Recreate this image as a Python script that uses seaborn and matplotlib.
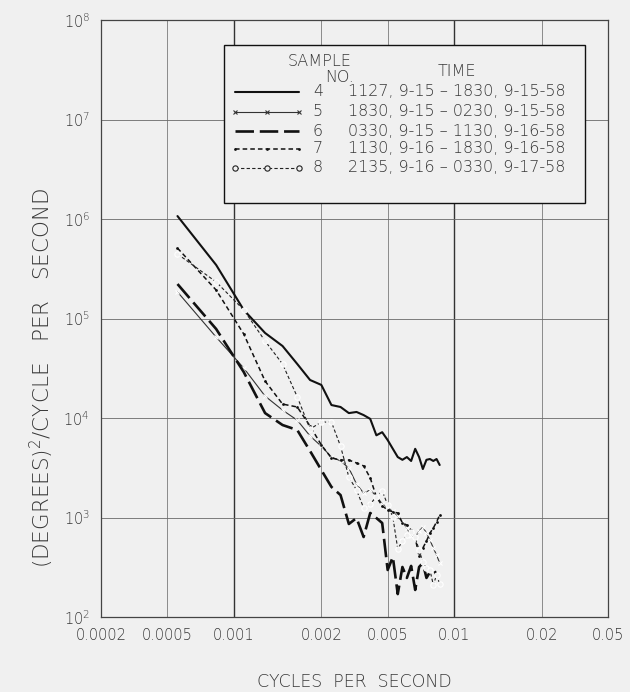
import matplotlib
matplotlib.use("Agg")
import matplotlib.pyplot as plt
import seaborn as sns
import pandas as pd
from matplotlib.lines import Line2D
from matplotlib.patches import Rectangle

# Harmonic frequencies (cycles per second), 2 to 31 cycles per hour
FREQ = [0.000556, 0.000833, 0.001111, 0.001389, 0.001667, 0.001944, 0.002222,
        0.002500, 0.002778, 0.003056, 0.003333, 0.003611, 0.003889, 0.004167,
        0.004444, 0.004722, 0.005000, 0.005278, 0.005556, 0.005833, 0.006111,
        0.006389, 0.006667, 0.006944, 0.007222, 0.007500, 0.007778, 0.008056,
        0.008333, 0.008611]

# Power spectral density, (degrees)^2 / cycle per second
S4 = [1.07e6, 3.45e5, 1.22e5, 7.15e4, 5.29e4, 3.49e4, 2.41e4, 2.15e4, 1.35e4,
      1.29e4, 1.12e4, 1.15e4, 1.07e4, 9.8e3, 6.7e3, 7.2e3, 6.0e3, 4.9e3, 4.05e3,
      3.8e3, 4.05e3, 3.7e3, 4.9e3, 4.05e3, 3.07e3, 3.8e3, 3.87e3, 3.7e3, 3.87e3,
      3.37e3]
S5 = [1.85e5, 6.5e4, 3.18e4, 1.66e4, 1.2e4, 9.5e3, 6.6e3, 5.2e3, 4.06e3, 3.7e3,
      3.14e3, 2.17e3, 1.76e3, 1.89e3, 1.64e3, 1.37e3, 1.25e3, 1.16e3, 1.03e3,
      900, 784, 651, 637, 731, 803, 699, 594, 494, 420, 349]
S6 = [2.22e5, 7.84e4, 2.9e4, 1.12e4, 8.5e3, 7.57e3, 4.66e3, 3.0e3, 2.03e3,
      1.68e3, 861, 988, 637, 1.11e3, 988, 880, 297, 401, 170, 318, 247, 326,
      187, 318, 349, 247, 283, 310, 264]
S7 = [5.1e5, 1.93e5, 6.98e4, 2.35e4, 1.38e4, 1.29e4, 8.3e3, 5.36e3, 3.96e3,
      3.78e3, 3.78e3, 3.53e3, 3.3e3, 2.5e3, 1.61e3, 1.31e3, 1.19e3, 1.14e3,
      1.11e3, 880, 840, 748, 622, 410, 493, 580, 698, 783, 902, 1.06e3]
S8 = [4.45e5, 2.33e5, 1.22e5, 5.94e4, 3.49e4, 1.63e4, 7.75e3, 9.1e3, 9.1e3,
      5.2e3, 2.55e3, 1.89e3, 1.25e3, 1.37e3, 1.61e3, 1.85e3, 1.34e3, 1.01e3,
      482, 580, 667, 715, 637, 471, 357, 311, 297, 210, 264, 215]

SAMPLES = ["4", "5", "6", "7", "8"]
TIMES = ["1127, 9-15 \u2013 1830, 9-15-58",
         "1830, 9-15 \u2013 0230, 9-15-58",
         "0330, 9-15 \u2013 1130, 9-16-58",
         "1130, 9-16 \u2013 1830, 9-16-58",
         "2135, 9-16 \u2013 0330, 9-17-58"]

X_TICKS = [0.00025, 0.0005, 0.001, 0.0025, 0.005, 0.01, 0.025, 0.05]
X_LABELS = ["0.0002", "0.0005", "0.001", "0.002", "0.005", "0.01", "0.02", "0.05"]
Y_EXP = [2, 3, 4, 5, 6, 7, 8]

BG = "#f0f0f0"
INK = "#111111"
TXT = "#383838"

sns.set_theme(style="white")
plt.rcParams["font.family"] = ["DejaVu Sans"]
plt.rcParams["font.weight"] = "light"
plt.rcParams["mathtext.default"] = "regular"

fig = plt.figure(figsize=(6.30, 6.92), dpi=100, facecolor=BG)
ax = fig.add_axes([101 / 630, 1 - 617 / 692, 507 / 630, 597 / 692])
ax.set_facecolor(BG)

# Series styles: solid, x-marked thin, long dash, short dash with dots, dash with circles
styles = {
    "4": dict(color=INK, lw=1.5, ls="-", marker=None),
    "5": dict(color="#333333", lw=0.8, ls="-", marker="x", ms=3, mew=0.8),
    "6": dict(color=INK, lw=1.9, ls=(0, (7, 2.2)), marker=None),
    "7": dict(color=INK, lw=1.1, ls=(0, (3, 2)), marker="o", ms=2, mew=0),
    "8": dict(color="#222222", lw=0.8, ls=(0, (3, 2)), marker="o", ms=3.8,
              mfc=BG, mew=0.8),
}
series = {"4": S4, "5": S5, "6": S6, "7": S7, "8": S8}

for key in SAMPLES:
    vals = series[key]
    df = pd.DataFrame({"freq": FREQ[:len(vals)], "psd": vals})
    st = dict(styles[key])
    ls = st.pop("ls")
    line_ax = sns.lineplot(data=df, x="freq", y="psd", ax=ax, sort=False,
                           estimator=None, zorder=3, **st)
    line_ax.lines[-1].set_linestyle(ls)

ax.set_xscale("log")
ax.set_yscale("log")
ax.set_xlim(2.5e-4, 5e-2)
ax.set_ylim(1e2, 1e8)

ax.set_xticks(X_TICKS)
ax.set_xticklabels(X_LABELS)
ax.set_yticks([10.0 ** e for e in Y_EXP])
ax.set_yticklabels([r"$10^{%d}$" % e for e in Y_EXP])
ax.minorticks_off()
ax.tick_params(axis="both", length=0, labelsize=10.5, colors=TXT)
ax.tick_params(axis="x", pad=8)
ax.tick_params(axis="y", pad=8)

# Grid
for xv in X_TICKS:
    heavy = xv in (0.001, 0.01)
    ax.axvline(xv, color="#333333" if heavy else "#7a7a7a",
               lw=1.0 if heavy else 0.6, zorder=1)
for e in Y_EXP:
    ax.axhline(10.0 ** e, color="#6a6a6a", lw=0.6, zorder=1)
for sp in ax.spines.values():
    sp.set_color("#444444")
    sp.set_linewidth(0.9)

ax.set_xlabel("")
ax.set_ylabel("")
fig.text(354 / 630, 1 - 682 / 692, "CYCLES  PER  SECOND", ha="center",
         va="center", fontsize=12.5, color=TXT)
fig.text(42 / 630, 1 - 378 / 692, r"(DEGREES)$^{2}$/CYCLE   PER   SECOND",
         rotation=90, ha="center", va="center", fontsize=15.5, color=TXT)

# Legend box
bx0, bx1 = (224 - 101) / 507, (585 - 101) / 507
by0, by1 = 1 - (203 - 20) / 597, 1 - (45 - 20) / 597
ax.add_patch(Rectangle((bx0, by0), bx1 - bx0, by1 - by0, transform=ax.transAxes,
                       facecolor=BG, edgecolor=INK, lw=1.0, zorder=5))


def fx(px):
    return (px - 101) / 507


def fy(py):
    return 1 - (py - 20) / 597


ax.text(fx(320), fy(61), "SAMPLE", transform=ax.transAxes, ha="center",
        va="center", fontsize=11.5, color=TXT, zorder=6)
ax.text(fx(340), fy(78), "NO.", transform=ax.transAxes, ha="center",
        va="center", fontsize=11.5, color=TXT, zorder=6)
ax.text(fx(457), fy(71), "TIME", transform=ax.transAxes, ha="center",
        va="center", fontsize=11.5, color=TXT, zorder=6)

row_y = [92, 112, 131, 149, 168]
for key, t, ry in zip(SAMPLES, TIMES, row_y):
    st = dict(styles[key])
    ls = st.pop("ls")
    color = st.pop("color")
    lw = st.pop("lw")
    marker = st.pop("marker")
    if marker is None:
        xs = [fx(235), fx(299)]
    else:
        xs = [fx(235), fx(267), fx(299)]
    ln = Line2D(xs, [fy(ry)] * len(xs), transform=ax.transAxes, color=color,
                lw=lw, ls=ls, marker=marker, zorder=6, **st)
    ax.add_line(ln)
    ax.text(fx(318), fy(ry), key, transform=ax.transAxes, ha="center",
            va="center", fontsize=11.5, color=TXT, zorder=6)
    ax.text(fx(348), fy(ry), t, transform=ax.transAxes, ha="left",
            va="center", fontsize=11.5, color=TXT, zorder=6)

fig.savefig("out.png", dpi=100, facecolor=BG)
